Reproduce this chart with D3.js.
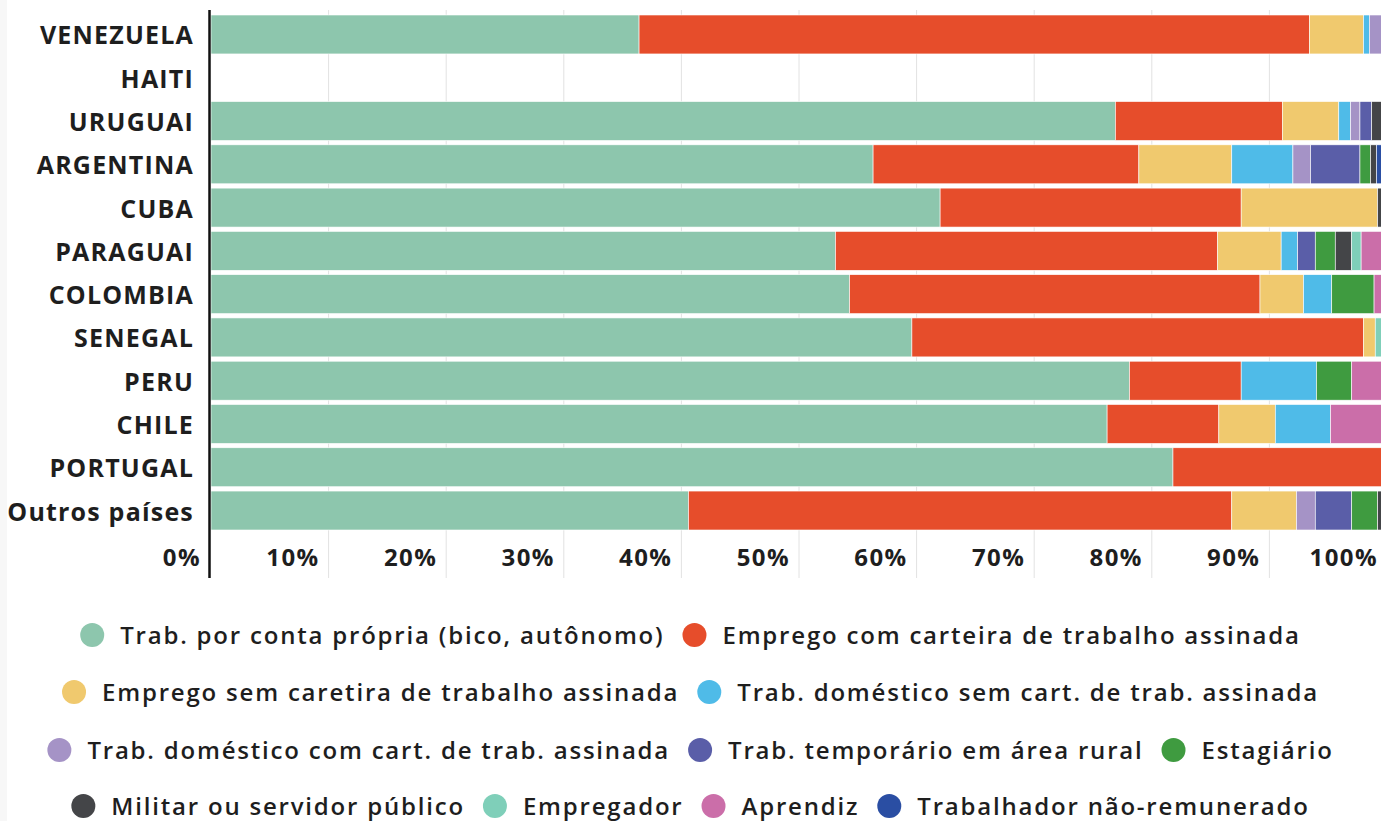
<!DOCTYPE html>
<html>
<head>
<meta charset="utf-8">
<script src="https://cdn.jsdelivr.net/npm/d3@7"></script>
<style>
  body { margin: 0; background: #fff; }
  svg { display: block; font-family: 'Open Sans', sans-serif; }
</style>
</head>
<body>
<div id="chart"></div>
<script>
// countries, top to bottom
const countries = ['VENEZUELA', 'HAITI', 'URUGUAI', 'ARGENTINA', 'CUBA', 'PARAGUAI', 'COLOMBIA', 'SENEGAL', 'PERU', 'CHILE', 'PORTUGAL', 'Outros países'];

const seriesNames = [
  'Trab. por conta própria (bico, autônomo)',
  'Emprego com carteira de trabalho assinada',
  'Emprego sem caretira de trabalho assinada',
  'Trab. doméstico sem cart. de trab. assinada',
  'Trab. doméstico com cart. de trab. assinada',
  'Trab. temporário em área rural',
  'Estagiário',
  'Militar ou servidor público',
  'Empregador',
  'Aprendiz',
  'Trabalhador não-remunerado',
];

const seriesColors = ['#8dc6ad', '#e64d2b', '#f0c96e', '#4fbbe8', '#a593c6', '#5a5ea8', '#3f9b40', '#444548', '#7fcfb9', '#cb6ea9', '#2a4ea3'];

// percent values per series, in country order
const contaPropria   = [36.4, 0, 76.9, 56.3, 62.0, 53.1, 54.3, 59.6, 78.1, 76.2, 81.8, 40.6];
const comCarteira    = [57.0, 0, 14.2, 22.6, 25.6, 32.5, 34.9, 38.4, 9.5, 9.5, 18.2, 46.2];
const semCarteira    = [4.6, 0, 4.8, 7.9, 11.6, 5.4, 3.7, 1.0, 0, 4.8, 0, 5.5];
const domesticoSem   = [0.5, 0, 1.0, 5.2, 0, 1.4, 2.4, 0, 6.4, 4.7, 0, 0];
const domesticoCom   = [1.5, 0, 0.8, 1.5, 0, 0, 0, 0, 0, 0, 0, 1.6];
const temporario     = [0, 0, 1.0, 4.2, 0, 1.5, 0, 0, 0, 0, 0, 3.1];
const estagiario     = [0, 0, 0, 0.9, 0, 1.7, 3.6, 0, 3.0, 0, 0, 2.2];
const militar        = [0, 0, 1.3, 0.5, 0.8, 1.4, 0, 0, 0, 0, 0, 0.8];
const empregador     = [0, 0, 0, 0, 0, 0.8, 0, 1.0, 0, 0, 0, 0];
const aprendiz       = [0, 0, 0, 0, 0, 2.2, 1.1, 0, 3.0, 4.8, 0, 0];
const naoRemunerado  = [0, 0, 0, 0.9, 0, 0, 0, 0, 0, 0, 0, 0];

const seriesValues = [contaPropria, comCarteira, semCarteira, domesticoSem, domesticoCom, temporario, estagiario, militar, empregador, aprendiz, naoRemunerado];

const xTicks = [0, 10, 20, 30, 40, 50, 60, 70, 80, 90, 100];

const width = 1381;
const height = 821;

const table = countries.map((c, i) => {
  const row = { country: c };
  seriesNames.forEach((s, j) => { row[s] = seriesValues[j][i]; });
  return row;
});

const svg = d3.select('#chart')
  .append('svg')
  .attr('width', width)
  .attr('height', height);

svg.append('rect').attr('width', 7).attr('height', height).attr('fill', '#f7f7f7');

const x = d3.scaleLinear().domain([0, 100]).range([211, 1387]);
const y = d3.scaleBand().domain(countries).range([15, 530]).paddingInner(0.1).paddingOuter(0);
const color = d3.scaleOrdinal().domain(seriesNames).range(seriesColors);

const plotTop = 10;
const plotBottom = 578;

// grid lines
svg.append('g')
  .selectAll('line')
  .data(xTicks.slice(1))
  .enter()
  .append('line')
  .attr('x1', (d) => x(d))
  .attr('x2', (d) => x(d))
  .attr('y1', plotTop)
  .attr('y2', plotBottom)
  .attr('stroke', '#e2e2e2')
  .attr('stroke-width', 1);

// bars
const stacked = d3.stack().keys(seriesNames)(table);

svg.append('g')
  .selectAll('g')
  .data(stacked)
  .enter()
  .append('g')
  .attr('fill', (d) => color(d.key))
  .selectAll('rect')
  .data((d) => d)
  .enter()
  .append('rect')
  .attr('x', (d) => x(d[0]))
  .attr('y', (d) => y(d.data.country))
  .attr('width', (d) => x(d[1]) - x(d[0]))
  .attr('height', y.bandwidth())
  .attr('stroke', '#fff')
  .attr('stroke-width', (d) => (d[1] - d[0] > 0 ? 0.6 : 0));

// axis line
svg.append('line')
  .attr('x1', 209.5)
  .attr('x2', 209.5)
  .attr('y1', plotTop)
  .attr('y2', plotBottom)
  .attr('stroke', '#111')
  .attr('stroke-width', 2.5);

// x tick labels
svg.append('g')
  .selectAll('text')
  .data(xTicks)
  .enter()
  .append('text')
  .attr('x', (d) => (d === 0 ? 201 : x(d) - 9))
  .attr('y', 566)
  .attr('text-anchor', 'end')
  .attr('fill', '#1e1e1e')
  .style('font-size', '24px')
  .style('font-weight', 700)
  .style('letter-spacing', '1.4px')
  .text((d) => d + '%');

// country labels
svg.append('g')
  .selectAll('text')
  .data(countries)
  .enter()
  .append('text')
  .attr('x', 194)
  .attr('y', (d) => y(d) + y.bandwidth() / 2 + 1)
  .attr('dy', '0.36em')
  .attr('text-anchor', 'end')
  .attr('fill', '#1e1e1e')
  .style('font-size', '25px')
  .style('font-weight', 700)
  .style('letter-spacing', '1.2px')
  .text((d) => d);

// legend
const legendRows = [[0, 1], [2, 3], [4, 5, 6], [7, 8, 9, 10]];
const legendY = [635, 692, 750, 806];
const r = 12;
const textGap = 16;
const itemGap = 18;

legendRows.forEach((row, ri) => {
  const g = svg.append('g');
  let cx = 0;
  row.forEach((si) => {
    const item = g.append('g').attr('transform', `translate(${cx},0)`);
    item.append('circle').attr('cx', r).attr('cy', 0).attr('r', r).attr('fill', seriesColors[si]);
    const t = item.append('text')
      .attr('x', 2 * r + textGap)
      .attr('dy', '0.36em')
      .attr('fill', '#1e1e1e')
      .style('font-size', '24px')
      .style('font-weight', 600)
      .style('letter-spacing', '1.8px')
      .text(seriesNames[si]);
    cx += 2 * r + textGap + t.node().getComputedTextLength() + itemGap;
  });
  const total = cx - itemGap;
  g.attr('transform', `translate(${(width - total) / 2},${legendY[ri]})`);
});
</script>
</body>
</html>
